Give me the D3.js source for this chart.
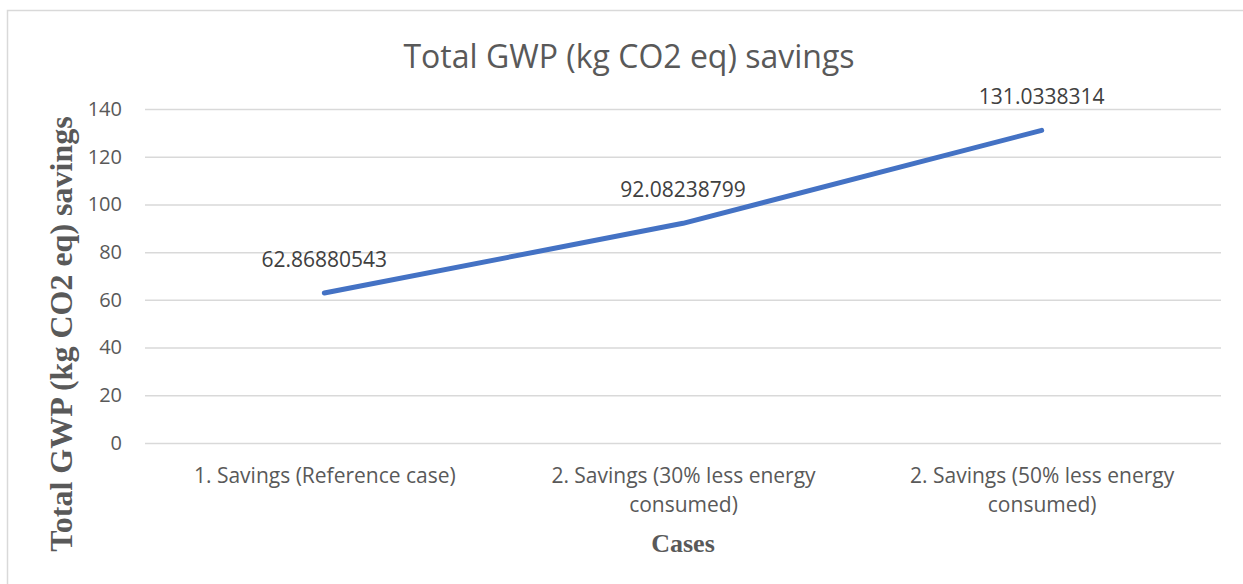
<!DOCTYPE html>
<html>
<head>
<meta charset="utf-8">
<script src="https://cdn.jsdelivr.net/npm/d3@7"></script>
<style>
  body { margin: 0; background: #fff; }
  svg { display: block; }
</style>
</head>
<body>
<div id="chart"></div>
<script>
// chart values
const categories = [
    "1. Savings (Reference case)",
    "2. Savings (30% less energy consumed)",
    "2. Savings (50% less energy consumed)"
];
const savings = [62.86880543, 92.08238799, 131.0338314];
const yTicks = [0, 20, 40, 60, 80, 100, 120, 140];

const titleText = "Total GWP (kg CO2 eq) savings";
const yLabelText = "Total GWP (kg CO2 eq) savings";
const xLabelText = "Cases";

const W = 1243, H = 584;
const margin = { top: 109, right: 22, bottom: 141, left: 145 };

const svg = d3.select("#chart").append("svg")
    .attr("width", W).attr("height", H);

// outer frame
svg.append("rect")
    .attr("x", 7.5).attr("y", 10.5)
    .attr("width", 1240).attr("height", 580)
    .attr("fill", "none").attr("stroke", "#d9d9d9").attr("stroke-width", 1.5);

const x = d3.scalePoint()
    .domain(categories)
    .range([margin.left, W - margin.right])
    .padding(0.5);

const y = d3.scaleLinear()
    .domain([0, 140])
    .range([H - margin.bottom, margin.top]);

// gridlines + y tick labels
const yAxis = svg.append("g")
    .attr("transform", `translate(${margin.left},0)`)
    .call(d3.axisLeft(y).tickValues(yTicks).tickSize(-(W - margin.left - margin.right)).tickPadding(23));
yAxis.select(".domain").remove();
yAxis.selectAll(".tick line").attr("stroke", "#d9d9d9").attr("stroke-width", 1.5);
yAxis.selectAll(".tick text")
    .attr("fill", "#595959")
    .style("font-family", "'Open Sans', sans-serif")
    .style("font-size", "20px");

// category labels (wrapped)
const xAxis = svg.append("g")
    .attr("transform", `translate(0,${H - margin.bottom})`)
    .call(d3.axisBottom(x).tickSize(0).tickPadding(0));
xAxis.select(".domain").remove();
xAxis.selectAll(".tick text")
    .attr("fill", "#595959")
    .style("font-family", "'Open Sans', sans-serif")
    .style("font-size", "21px")
    .attr("y", 0).attr("dy", null)
    .each(function(d) { wrap(d3.select(this), d, 300); });

function wrap(text, str, width) {
    const words = str.split(" ");
    text.text(null);
    let lines = [[]];
    const probe = text.append("tspan");
    words.forEach(w => {
        const cur = lines[lines.length - 1];
        probe.text(cur.concat(w).join(" "));
        if (cur.length && probe.node().getComputedTextLength() > width) lines.push([w]);
        else cur.push(w);
    });
    probe.remove();
    lines.forEach((l, i) => {
        text.append("tspan").attr("x", 0).attr("y", 40 + i * 29).text(l.join(" "));
    });
}

// line
const line = d3.line()
    .x((d, i) => x(categories[i]))
    .y(d => y(d));

svg.append("path")
    .datum(savings)
    .attr("d", line)
    .attr("fill", "none")
    .attr("stroke", "#4472c4")
    .attr("stroke-width", 5)
    .attr("stroke-linecap", "round")
    .attr("stroke-linejoin", "round");

// data labels above each point
svg.append("g").selectAll("text")
    .data(savings)
    .join("text")
    .attr("x", (d, i) => x(categories[i]))
    .attr("y", d => y(d) - 26)
    .attr("text-anchor", "middle")
    .attr("fill", "#404040")
    .style("font-family", "'Open Sans', sans-serif")
    .style("font-size", "21px")
    .text(d => String(d));

// title
svg.append("text")
    .attr("x", 629).attr("y", 68)
    .attr("text-anchor", "middle")
    .attr("fill", "#595959")
    .style("font-family", "'Open Sans', sans-serif")
    .style("font-size", "32px")
    .text(titleText);

// axis titles
svg.append("text")
    .attr("transform", `translate(72,${(margin.top + H - margin.bottom) / 2 + 58}) rotate(-90)`)
    .attr("text-anchor", "middle")
    .attr("fill", "#595959")
    .style("font-family", "'Liberation Serif', serif")
    .style("font-weight", "bold")
    .style("font-size", "32px")
    .text(yLabelText);

svg.append("text")
    .attr("x", x(categories[1])).attr("y", 552)
    .attr("text-anchor", "middle")
    .attr("fill", "#595959")
    .style("font-family", "'Liberation Serif', serif")
    .style("font-weight", "bold")
    .style("font-size", "26px")
    .text(xLabelText);
</script>
</body>
</html>
